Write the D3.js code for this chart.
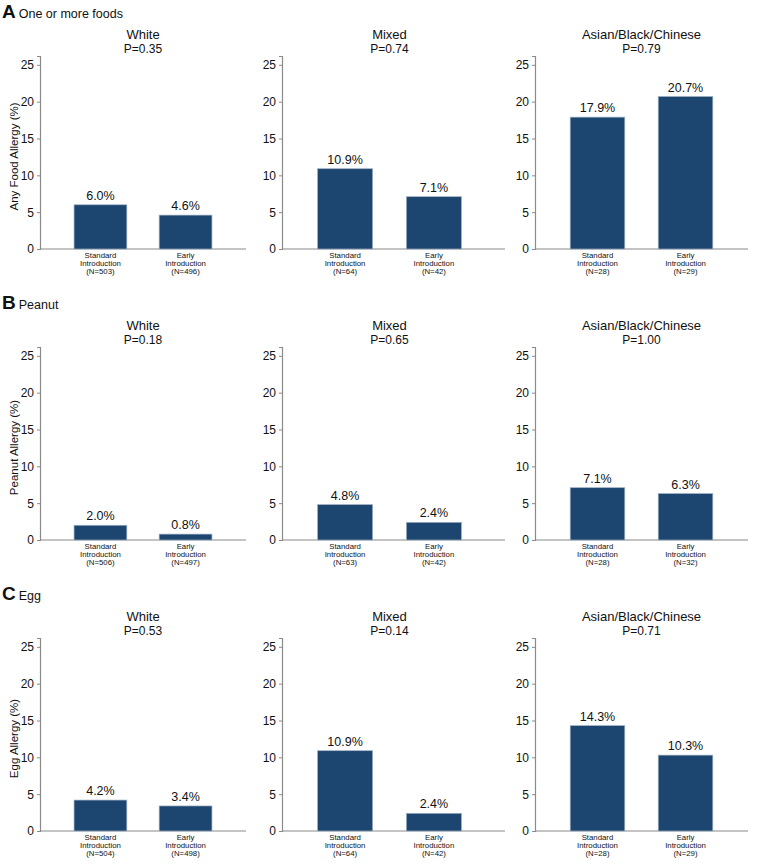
<!DOCTYPE html>
<html>
<head>
<meta charset="utf-8">
<script src="https://d3js.org/d3.v7.min.js"></script>
<style>
  body { margin: 0; background: #fff; }
  text { font-family: "Liberation Sans", Arial, sans-serif; fill: #111; }
</style>
</head>
<body>
<div id="chart"></div>
<script>
// data
var outcomes = ["One or more foods", "Peanut", "Egg"];
var letters = ["A", "B", "C"];
var yTitles = ["Any Food Allergy (%)", "Peanut Allergy (%)", "Egg Allergy (%)"];
var groups = ["White", "Mixed", "Asian/Black/Chinese"];
var arms = ["Standard", "Early"];
var yTicks = [0, 5, 10, 15, 20, 25];

// values[row][col] = [standard, early]
var values = [
  [[6.0, 4.6], [10.9, 7.1], [17.9, 20.7]],
  [[2.0, 0.8], [4.8, 2.4], [7.1, 6.3]],
  [[4.2, 3.4], [10.9, 2.4], [14.3, 10.3]]
];
var counts = [
  [[503, 496], [64, 42], [28, 29]],
  [[506, 497], [63, 42], [28, 32]],
  [[504, 498], [64, 42], [28, 29]]
];
var pValues = [
  ["0.35", "0.74", "0.79"],
  ["0.18", "0.65", "1.00"],
  ["0.53", "0.14", "0.71"]
];

var W = 759, H = 866;
var svg = d3.select("#chart").append("svg")
  .attr("width", W).attr("height", H);

// layout
var colLeft = [40, 282, 535];
var colBand = [206, 215, 213];
var colEnd = [246, 505, 748];
var rowStep = 291;
var plotTop = 56, plotBottom = 249; // row A

var barColor = "#1c4570";
var axisColor = "#8a8a8a";

var y = d3.scaleLinear().domain([0, 26.2]).range([plotBottom, plotTop]);

outcomes.forEach(function (outcome, r) {
  var g = svg.append("g").attr("transform", "translate(0," + (r * rowStep) + ")");

  // row header
  var head = g.append("text").attr("x", 2).attr("y", 18);
  head.append("tspan").attr("font-weight", "bold").attr("font-size", 19).text(letters[r]);
  head.append("tspan").attr("font-size", 12.5).attr("dx", 3).text(outcome);

  // y title
  g.append("text")
    .attr("transform", "translate(18," + ((plotTop + plotBottom) / 2 + 4) + ") rotate(-90)")
    .attr("text-anchor", "middle")
    .attr("font-size", 11.5)
    .text(yTitles[r]);

  groups.forEach(function (grp, c) {
    var p = g.append("g");
    var x = d3.scaleBand().domain(arms)
      .range([colLeft[c], colLeft[c] + colBand[c]])
      .paddingInner(0.38).paddingOuter(0.4);
    var mid = (x("Standard") + x("Early") + x.bandwidth()) / 2;

    p.append("text").attr("x", mid).attr("y", 39)
      .attr("text-anchor", "middle").attr("font-size", 13).text(grp);
    p.append("text").attr("x", mid).attr("y", 53)
      .attr("text-anchor", "middle").attr("font-size", 12).text("P=" + pValues[r][c]);

    // y axis
    var ya = p.append("g").attr("transform", "translate(" + colLeft[c] + ",0)")
      .call(d3.axisLeft(y).tickValues(yTicks).tickSize(3).tickPadding(3));
    ya.select(".domain").attr("stroke", axisColor).attr("stroke-width", 1.2);
    ya.selectAll(".tick line").attr("stroke", axisColor);
    ya.selectAll(".tick text").attr("font-size", 12).attr("fill", "#111")
      .attr("font-family", "Liberation Sans, Arial, sans-serif");

    // x baseline
    p.append("line")
      .attr("x1", colLeft[c]).attr("x2", colEnd[c])
      .attr("y1", y(0)).attr("y2", y(0))
      .attr("stroke", axisColor).attr("stroke-width", 1.2);

    var vals = values[r][c];
    p.selectAll("rect.bar").data(arms).enter().append("rect")
      .attr("class", "bar")
      .attr("x", function (d) { return x(d); })
      .attr("width", x.bandwidth())
      .attr("y", function (d, i) { return y(vals[i]); })
      .attr("height", function (d, i) { return y(0) - y(vals[i]); })
      .attr("fill", barColor)
      .attr("stroke", "#9fb0c2").attr("stroke-width", 0.7);

    p.selectAll("text.val").data(arms).enter().append("text")
      .attr("class", "val")
      .attr("x", function (d) { return x(d) + x.bandwidth() / 2; })
      .attr("y", function (d, i) { return y(vals[i]) - 5; })
      .attr("text-anchor", "middle").attr("font-size", 12.5)
      .text(function (d, i) { return vals[i].toFixed(1) + "%"; });

    p.selectAll("text.cat").data(arms).enter().append("text")
      .attr("class", "cat")
      .attr("text-anchor", "middle").attr("font-size", 7.8)
      .each(function (d, i) {
        var t = d3.select(this);
        var cx = x(d) + x.bandwidth() / 2;
        var lines = [d, "Introduction", "(N=" + counts[r][c][i] + ")"];
        lines.forEach(function (l, k) {
          t.append("tspan").attr("x", cx).attr("y", y(0) + 8.5 + k * 8.2).text(l);
        });
      });
  });
});
</script>
</body>
</html>
